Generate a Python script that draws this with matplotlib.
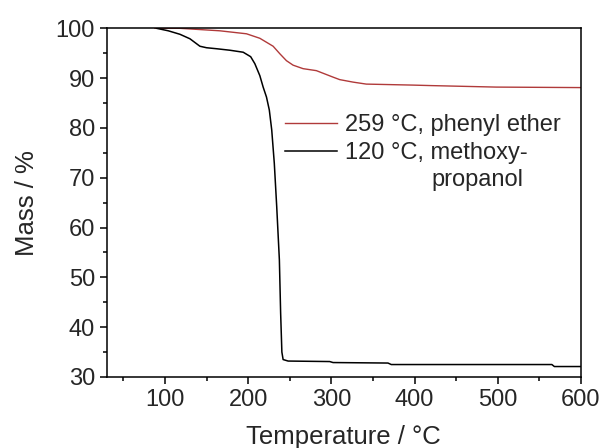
import matplotlib
matplotlib.use("Agg")
import matplotlib.pyplot as plt
from matplotlib.ticker import MultipleLocator

plt.rcParams['font.family'] = ['Liberation Sans', 'DejaVu Sans']

# methoxypropanol, 120 °C
t_black = [90, 104, 118, 130, 142, 150, 162, 178, 194, 203, 208, 214, 218, 222,
           225.4, 228.3, 231.4, 234.3, 237.5, 239, 240.5, 242, 248, 298, 302,
           368, 372, 565, 568, 600]
m_black = [100, 99.5, 98.8, 97.9, 96.4, 96.1, 95.9, 95.6, 95.2, 94.3, 92.9, 90.5,
           88.2, 86.2, 83.6, 79.6, 72.9, 64.2, 53.5, 42.9, 35, 33.5, 33.2, 33.1,
           32.9, 32.8, 32.5, 32.5, 32.1, 32.1]

# phenyl ether, 259 °C
t_red = [88, 118, 166, 198, 214, 230, 238, 246, 254, 266, 282, 302, 310, 326, 342,
         398, 420, 498, 600]
m_red = [100, 100, 99.5, 98.9, 98.0, 96.4, 94.9, 93.5, 92.6, 91.9, 91.5, 90.2, 89.7,
         89.2, 88.8, 88.6, 88.5, 88.2, 88.1]

label_red = "259 °C, phenyl ether"
label_black = "120 °C, methoxy-"
label_black2 = "propanol"

txt = '#262626'
fig = plt.figure(figsize=(6.03, 4.48), dpi=100)
ax = fig.add_axes([0.177, 0.1585, 0.7865, 0.7783])

ax.plot(t_red, m_red, color='#b03a3a', lw=1.0, label=label_red)
ax.plot(t_black, m_black, color='black', lw=1.1, label=label_black)

ax.set_xlim(30, 600)
ax.set_ylim(30, 100)
ax.xaxis.set_major_locator(MultipleLocator(100))
ax.xaxis.set_minor_locator(MultipleLocator(50))
ax.yaxis.set_major_locator(MultipleLocator(10))
ax.yaxis.set_minor_locator(MultipleLocator(5))
ax.tick_params(which='both', direction='out', top=False, right=False,
               labelsize=17, labelcolor=txt, width=1.1)
ax.tick_params(which='major', length=5)
ax.tick_params(which='minor', length=3)
for s in ax.spines.values():
    s.set_linewidth(1.1)

ax.set_xlabel("Temperature / °C", fontsize=18.5, color=txt, labelpad=10)
ax.set_ylabel("Mass / %", fontsize=18.5, color=txt, labelpad=12)

leg = ax.legend(loc='upper left', bbox_to_anchor=(0.376, 0.754), frameon=False,
                fontsize=17, handlelength=2.2, handletextpad=0.35,
                labelspacing=0.25, borderpad=0, borderaxespad=0)
for t in leg.get_texts():
    t.set_color(txt)
ax.text(0.685, 0.565, label_black2, transform=ax.transAxes, fontsize=17,
        color=txt, va='center', ha='left')

fig.savefig("out.png", dpi=100)
